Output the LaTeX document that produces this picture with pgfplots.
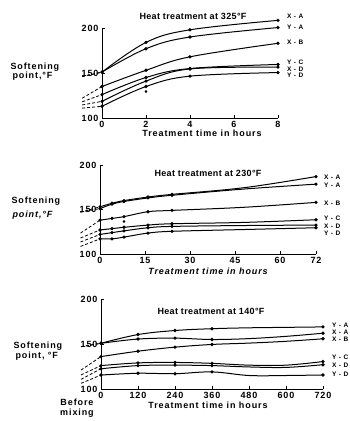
\documentclass[border=0pt]{standalone}
\usepackage{pgfplots}
\usepackage{pgfplotstable}
\pgfplotsset{compat=1.18}
\usepackage{fontspec}
\setmainfont{Liberation Sans}[UprightFont=* Bold, ItalicFont=* Bold Italic, LetterSpace=10]

% softening point of the blends (deg F) versus time of heat treatment
\pgfplotstableread{
t     XA    YA    XB    YC    XD    YD
0     151   151   135   126   118.5 113
2     184   177   153   145   141   135
4     198   190   168   155   154.5 146.5
8     208.5 200.5 183   159.5 156.5 150.5
}\hotA
\pgfplotstableread{
t     XA    YA    XB    YC    XD    YD
-0.9  146   146   122   118   114.5 111
0     151   151   135   126   118.5 113
}\mixA
\pgfplotstableread{
t   XA    YA    XB    YC    XD    YD
0   153   151   138   127   122   117
4   157   156   140   128.5 124   117
8   160   159   142   130   126   119
16  164   163   147.5 132.5 129.5 123.5
24  167   166   149   134   131   125.5
48  174.5 173   152.5 135.5 132   127.5
72  187   178.5 158   138.5 132.5 129.5
}\hotB
\pgfplotstableread{
t     XA    YA    XB    YC    XD    YD
-6.5  147   147   123.5 118   113.5 108.5
0     153   151   138   127   122   117
}\mixB
\pgfplotstableread{
t    XA    YA    XB    YC    XD    YD
0    150.8 150.8 136   126   122.5 115.5
120  155.5 160.5 142   129   126   117.5
240  156.5 165   146.5 129.5 126.5 117
360  155   167   149.5 128.5 126   119
480  156   168   151   126.5 124.5 115
600  158.5 168.5 153   126.5 124   115
720  162   169   155.8 130.5 127   115.6
}\hotC
\pgfplotstableread{
t    XA    YA    XB    YC    XD    YD
-65  147   147   121   115.6 110.7 106.3
0    150.8 150.8 136   126   122.5 115.5
}\mixC

\pgfplotsset{
  softening/.style={
    scale only axis, anchor=south west,
    axis x line=bottom, axis y line=left,
    axis line style={-, line width=1pt},
    ymin=100, ymax=200, ytick={100,150,200},
    tick align=inside, major tick length=3pt,
    tick style={line width=0.8pt, black},
    clip=false,
    tick label style={font=\fontsize{9}{10}\selectfont},
    /pgf/number format/assume math mode=true,
  },
  curve/.style={black, line width=1pt, smooth, tension=0.6, mark=*, mark size=1.1pt},
  before/.style={black, line width=0.8pt, dash pattern=on 3pt off 2pt},
}

\newcommand\serieslabels[7]{% x, then y of X-A, Y-A, X-B, Y-C, X-D, Y-D
  \begin{scope}[every node/.style={anchor=west, font=\fontsize{6.5}{7}\selectfont, inner sep=0pt}]
    \node at (#1pt,-#2pt) {X - A};
    \node at (#1pt,-#3pt) {Y - A};
    \node at (#1pt,-#4pt) {X - B};
    \node at (#1pt,-#5pt) {Y - C};
    \node at (#1pt,-#6pt) {X - D};
    \node at (#1pt,-#7pt) {Y - D};
  \end{scope}}

\begin{document}
\begin{tikzpicture}[font=\fontsize{9}{10}\selectfont]
\useasboundingbox (0pt,0pt) rectangle (350pt,-421pt);

% ---------- 325 F ----------
\begin{axis}[softening, at={(102pt,-118pt)}, width=176pt, height=90pt,
  xmin=0, xmax=8, xtick={0,2,4,6,8}]
  \foreach \s in {XA,YA,XB,YC,XD,YD}{
    \addplot[curve] table[x=t, y=\s] {\hotA};
    \addplot[before] table[x=t, y=\s] {\mixA};
  }
  \addplot[only marks, mark=*, mark size=1.1pt] coordinates {(2,129.5)};
\end{axis}
\node at (193pt,-16pt) {\addfontfeature{LetterSpace=4}Heat treatment at 325°F};
\node at (202pt,-133pt) {Treatment time in hours};
\node[anchor=west] at (7pt,-67pt) {Softening};
\node[anchor=west] at (9pt,-76pt) {point,°F};
\serieslabels{287}{16}{27}{42}{62}{69}{75.5}

% ---------- 230 F ----------
\begin{axis}[softening, at={(100pt,-254pt)}, width=216pt, height=89pt,
  xmin=0, xmax=72, xtick={0,15,30,45,60,72}]
  \foreach \s in {XA,YA,XB,YC,XD,YD}{
    \addplot[curve, mark indices={1,2,3,4,5,7}] table[x=t, y=\s] {\hotB};
    \addplot[before] table[x=t, y=\s] {\mixB};
  }
  \addplot[only marks, mark=*, mark size=1.1pt] coordinates {(8,136.5)};
\end{axis}
\node at (208pt,-173pt) {\addfontfeature{LetterSpace=4}Heat treatment at 230°F};
\node at (208pt,-271pt) {\itshape Treatment time in hours};
\node[anchor=west] at (8pt,-201.5pt) {Softening};
\node[anchor=west] at (9pt,-215pt) {\itshape point,°F};
\serieslabels{324}{177}{185}{203}{218}{226}{233}

% ---------- 140 F ----------
\begin{axis}[softening, at={(101pt,-389pt)}, width=222pt, height=90pt,
  xmin=0, xmax=720, xtick={0,120,240,360,480,600,720}]
  \foreach \s in {XA,YA,XB,YC,XD,YD}{
    \addplot[curve, mark indices={1,2,3,4,7}] table[x=t, y=\s] {\hotC};
    \addplot[before] table[x=t, y=\s] {\mixC};
  }
\end{axis}
\node at (211pt,-311pt) {\addfontfeature{LetterSpace=4}Heat treatment at 140°F};
\node at (208pt,-405pt) {Treatment time in hours};
\node[anchor=west] at (10pt,-346pt) {Softening};
\node[anchor=west] at (12pt,-356pt) {point, °F};
\node at (77pt,-402pt) {Before};
\node at (77pt,-413pt) {mixing};
\serieslabels{332}{332}{325}{339}{357}{365}{374}
\end{tikzpicture}
\end{document}
